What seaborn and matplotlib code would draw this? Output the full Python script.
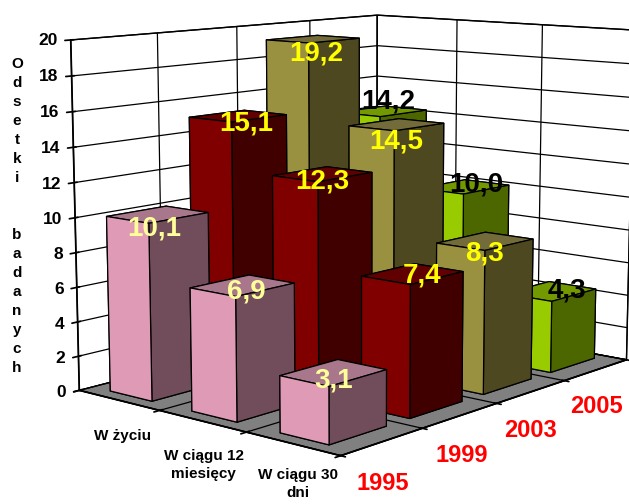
import matplotlib
matplotlib.use('Agg')
import matplotlib.pyplot as plt
import seaborn as sns

categories = ['W życiu', 'W ciągu 12\nmiesięcy', 'W ciągu 30\ndni']
years = ['1995', '1999', '2003', '2005']
values_1995 = [10.1, 6.9, 3.1]
values_1999 = [15.1, 12.3, 7.4]
values_2003 = [19.2, 14.5, 8.3]
values_2005 = [14.2, 10.0, 4.3]
z_ticks = [0, 2, 4, 6, 8, 10, 12, 14, 16, 18, 20]
y_title = 'Odsetki  badanych'

series = [values_1995, values_1999, values_2003, values_2005]
# kolory: front, gora, bok
face_colors = [('#DF9AB5', '#A8778C', '#714D5B'),
               ('#800000', '#600000', '#400000'),
               ('#999040', '#736C3A', '#4D4820'),
               ('#99CC00', '#739900', '#4C6600')]
label_colors = ['#FFFF99', '#FFFF00', '#FFFF00', '#000000']

# przesuniecia etykiet w jednostkach osi
label_dy = [[-0.04, 0.05, 0.0], [0.1, 0.0, 0.12], [0.04, 0.0, 0.0], [0.08, 0.18, 0.26]]
label_dz = [[-0.74, -0.4, -0.4], [-0.5, -0.4, -0.2], [-0.9, -1.0, -0.7], [0.6, 0.0, -0.2]]
cat_label_x = [1.33, 2.37, 3.23]
cat_label_y = [-0.72, -0.85, -0.74]
year_label_y = [-0.34, 0.61, 1.51, 2.46]

sns.set_theme(style='white', rc={'grid.color': 'black', 'grid.linewidth': 0.9})
plt.rcParams['font.family'] = ['Liberation Sans', 'DejaVu Sans']
plt.rcParams['font.weight'] = 'bold'

fig = plt.figure(figsize=(6.29, 5.04), dpi=100, facecolor='white')
ax = fig.add_axes([40 / 629, 38 / 504, 1, 1], projection='3d', computed_zorder=False)
ax.set_proj_type('persp', focal_length=0.72)
ax.view_init(elev=9.5, azim=-49.5)
ax.set_xlim(0, 3, view_margin=0)
ax.set_ylim(0, 4, view_margin=0)
ax.set_zlim(0, 20, view_margin=0)
ax.set_box_aspect((3.0, 4.0, 3.03), zoom=1.28)
ax.patch.set_alpha(0)

ax.set_xticks(range(4))
ax.set_yticks(range(5))
ax.set_zticks(z_ticks)
ax.set_xticklabels([])
ax.set_yticklabels([])
ax.set_zticklabels([])
ax.xaxis.set_pane_color('white')
ax.yaxis.set_pane_color('white')
ax.zaxis.set_pane_color('#808080')
for axis in (ax.xaxis, ax.yaxis, ax.zaxis):
    axis.pane.set_edgecolor('black')
    axis.line.set_color('black')
    axis.set_tick_params(color='black')
ax.zaxis.set_ticks_position('lower')

# od tylu do przodu, bo sortowanie 3D myli sie przy wysokich slupkach
for s in range(3, -1, -1):
    for c in range(3):
        front, top, side = face_colors[s]
        bars = ax.bar3d(c + 0.22, s + 0.16, 0, 0.52, 0.70, series[s][c], shade=False,
                        color=['#000000', top, front, side, side, side],
                        edgecolor='black', linewidth=0.9)
        bars.set_clip_on(False)

for s in range(4):
    for c in range(3):
        ax.text(c + 0.48, s + 0.51 + label_dy[s][c], series[s][c] + label_dz[s][c],
                f'{series[s][c]:.1f}'.replace('.', ','),
                color=label_colors[s], fontsize=20, ha='center', va='center', zorder=50)

for z in z_ticks:
    ax.text(-0.02, -0.13, z, str(z), color='black', fontsize=12.5, ha='right', va='center')
for c, name in enumerate(categories):
    ax.text(cat_label_x[c], cat_label_y[c], 0, name, color='black', fontsize=11,
            ha='center', va='center', linespacing=1.35)
for s, year in enumerate(years):
    ax.text(3.7, year_label_y[s], 0, year, color='#FF0000', fontsize=17, ha='center', va='center')

fig.text(17 / 629, 1 - 216 / 504, '\n'.join(y_title), color='black', fontsize=11,
         ha='center', va='center', linespacing=1.45)

fig.savefig('out.png', dpi=100)
